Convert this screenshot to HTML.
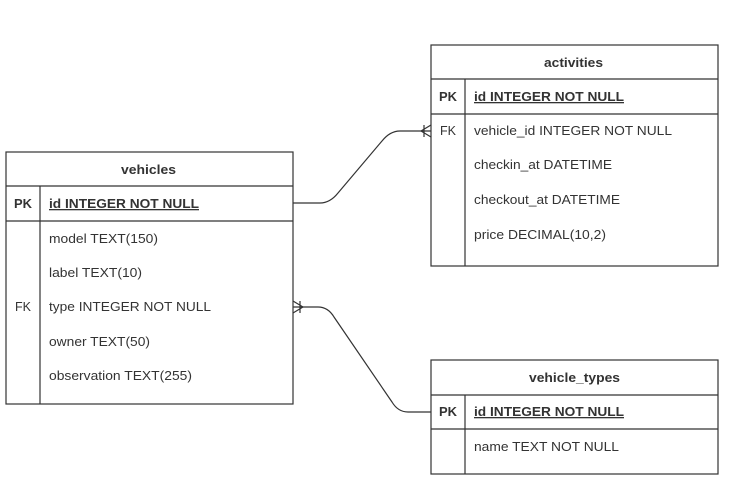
<!DOCTYPE html>
<html><head><style>body{margin:0;background:#fff}svg{display:block}text{font-family:"Liberation Sans",sans-serif;font-size:13px;fill:#333}.b{font-weight:bold}</style></head>
<body>
<svg width="736" height="504" viewBox="0 0 736 504">
<g fill="none" stroke="#333" stroke-width="1.2">
<rect x="6" y="152" width="287" height="252"/>
<line x1="6" y1="186" x2="293" y2="186"/><line x1="6" y1="221" x2="293" y2="221"/><line x1="40" y1="186" x2="40" y2="404"/>
<rect x="431" y="45" width="287" height="221"/>
<line x1="431" y1="79" x2="718" y2="79"/><line x1="431" y1="114" x2="718" y2="114"/><line x1="465" y1="79" x2="465" y2="266"/>
<rect x="431" y="360" width="287" height="114"/>
<line x1="431" y1="395" x2="718" y2="395"/><line x1="431" y1="429" x2="718" y2="429"/><line x1="465" y1="395" x2="465" y2="474"/>
<path d="M293 203 H320 Q330 203 338 193 L382 141 Q390 131 400 131 H431"/>
<path d="M421 131 L431 125 M421 131 L431 137 M424 125 V137"/>
<path d="M293 307 H318 Q328 307 334 317 L392 402 Q398 412 408 412 H431"/>
<path d="M303 307 L293 301 M303 307 L293 313 M300 301 V313"/>
</g>
<text x="121" y="174" class="b" textLength="55" lengthAdjust="spacingAndGlyphs">vehicles</text>
<text x="544" y="67" class="b" textLength="59" lengthAdjust="spacingAndGlyphs">activities</text>
<text x="529" y="382" class="b" textLength="91" lengthAdjust="spacingAndGlyphs">vehicle_types</text>
<text x="14" y="208" class="b" textLength="18" lengthAdjust="spacingAndGlyphs">PK</text>
<text x="49" y="208" class="b" text-decoration="underline" textLength="150" lengthAdjust="spacingAndGlyphs">id INTEGER NOT NULL</text>
<text x="49" y="243" textLength="109" lengthAdjust="spacingAndGlyphs">model TEXT(150)</text>
<text x="49" y="277" textLength="93" lengthAdjust="spacingAndGlyphs">label TEXT(10)</text>
<text x="15" y="311" textLength="16" lengthAdjust="spacingAndGlyphs">FK</text>
<text x="49" y="311" textLength="162" lengthAdjust="spacingAndGlyphs">type INTEGER NOT NULL</text>
<text x="49" y="346" textLength="101" lengthAdjust="spacingAndGlyphs">owner TEXT(50)</text>
<text x="49" y="380" textLength="143" lengthAdjust="spacingAndGlyphs">observation TEXT(255)</text>
<text x="439" y="101" class="b" textLength="18" lengthAdjust="spacingAndGlyphs">PK</text>
<text x="474" y="101" class="b" text-decoration="underline" textLength="150" lengthAdjust="spacingAndGlyphs">id INTEGER NOT NULL</text>
<text x="440" y="135" textLength="16" lengthAdjust="spacingAndGlyphs">FK</text>
<text x="474" y="135" textLength="198" lengthAdjust="spacingAndGlyphs">vehicle_id INTEGER NOT NULL</text>
<text x="474" y="169" textLength="138" lengthAdjust="spacingAndGlyphs">checkin_at DATETIME</text>
<text x="474" y="204" textLength="146" lengthAdjust="spacingAndGlyphs">checkout_at DATETIME</text>
<text x="474" y="239" textLength="132" lengthAdjust="spacingAndGlyphs">price DECIMAL(10,2)</text>
<text x="439" y="416" class="b" textLength="18" lengthAdjust="spacingAndGlyphs">PK</text>
<text x="474" y="416" class="b" text-decoration="underline" textLength="150" lengthAdjust="spacingAndGlyphs">id INTEGER NOT NULL</text>
<text x="474" y="451" textLength="145" lengthAdjust="spacingAndGlyphs">name TEXT NOT NULL</text>
</svg>
</body></html>
